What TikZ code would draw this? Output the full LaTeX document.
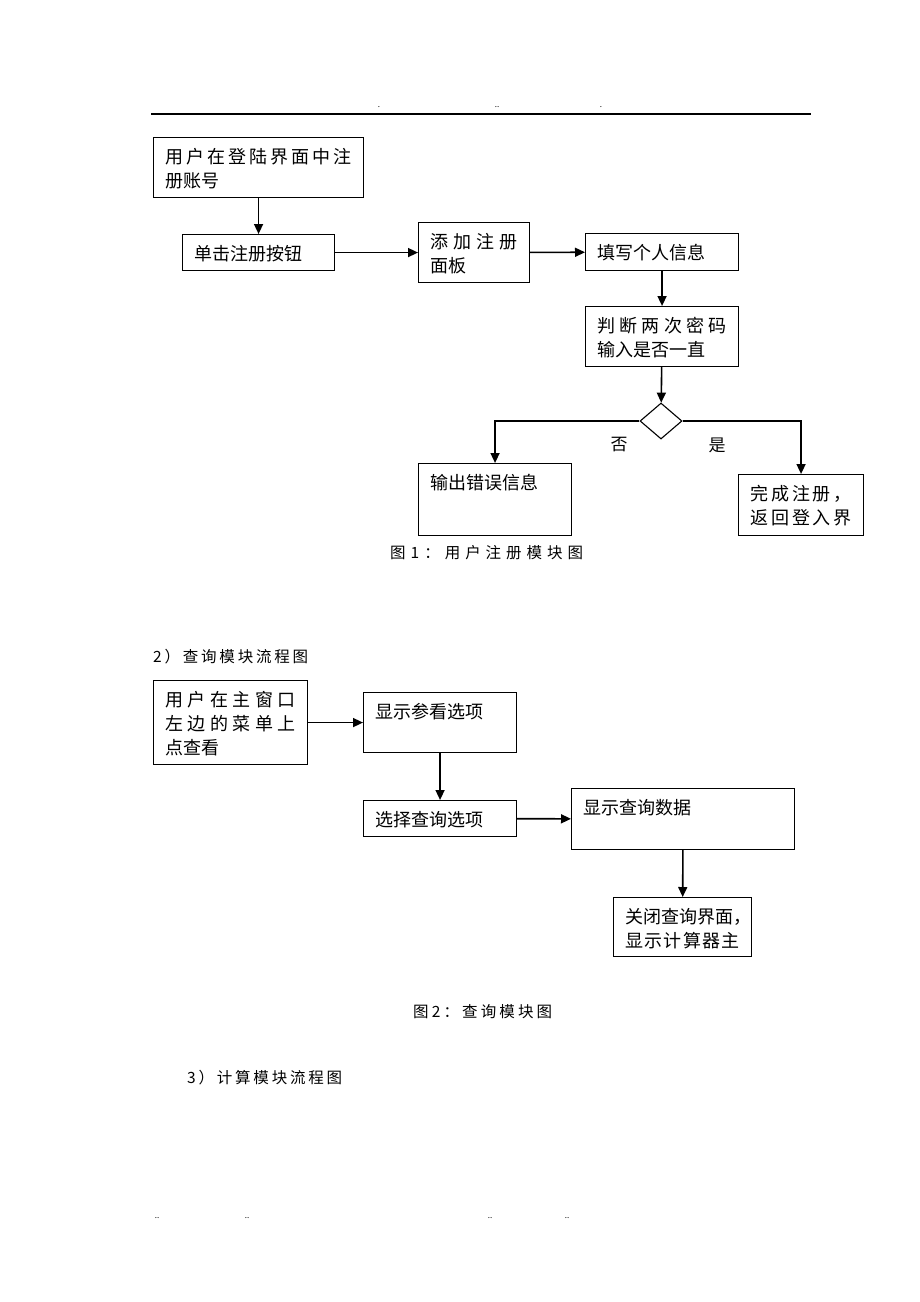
\documentclass[tikz,border=0pt]{standalone}
\usepackage{fontspec}
\newfontfamily\cjk{Noto Sans CJK SC}
\usetikzlibrary{arrows.meta}
\usetikzlibrary{positioning}
\usetikzlibrary{shapes.geometric}

% spread the characters of one line over a given width
\def\spreadloop#1{\ifx\relax#1\else#1\hfill\expandafter\spreadloop\fi}
\newcommand{\spreadto}[2]{\makebox[#1][s]{\spreadloop#2\relax\unskip}}
\newcommand{\spread}[1]{\spreadto{\linewidth}{#1}}
\newcommand{\boxtext}[3]{\parbox[c][#2][t]{#1}{\vspace*{11pt}#3}}

\begin{document}
\begin{tikzpicture}[x=1pt,y=-1pt,>={Triangle[length=10pt,width=9pt]},
  box/.style={draw,line width=1.1pt,anchor=north west,inner xsep=12pt,inner ysep=0pt,
    font=\cjk\fontsize{18pt}{24pt}\selectfont},
  test/.style={diamond,draw,line width=1.1pt,inner sep=0pt,minimum width=42pt,minimum height=36pt},
  title/.style={anchor=west,inner sep=0pt,font=\cjk\fontsize{15.5pt}{18pt}\selectfont},
  lbl/.style={inner sep=0pt,font=\cjk\fontsize{17pt}{20pt}\selectfont},
  dot/.style={inner sep=0pt,font=\cjk\fontsize{8pt}{8pt}\selectfont},
  link/.style={->,line width=1.6pt}]

  \useasboundingbox (0,0) rectangle (920,1302);

  % page header and footer
  \draw[line width=1.3pt] (151,114) -- (811,114);
  \node[dot] (h1) at (379,107) {.};
  \node[dot] (h2) at (497,107) {..};
  \node[dot] (h3) at (601,107) {.};
  \node[dot] (f1) at (157,1218) {..};
  \node[dot] (f2) at (247,1218) {..};
  \node[dot] (f3) at (490,1218) {..};
  \node[dot] (f4) at (567,1218) {..};

  % figure 1: register
  \node[box] (reg) at (153,137) {\boxtext{186pt}{60pt}{\spread{用户在登陆界面中注}\\册账号}};
  \node[box] (click) at (182,234) {\boxtext{128pt}{36pt}{单击注册按钮}};
  \node[box] (panel) at (418,222) {\boxtext{87pt}{60pt}{\spread{添加注册}\\面板}};
  \node[box] (fill) at (585,233) {\boxtext{129pt}{37pt}{填写个人信息}};
  \node[box] (check) at (585,306) {\boxtext{129pt}{60pt}{\spread{判断两次密码}\\输入是否一直}};
  \node[test] (same) at (661,421) {};
  \node[box] (err) at (418,463) {\boxtext{129pt}{72pt}{输出错误信息}};
  \node[box] (done) at (738,474) {\boxtext{101pt}{61pt}{\spread{完成注册，}\\\spread{返回登入界}}};
  \node[lbl] (no) at (619,445) {否};
  \node[lbl] (yes) at (717,445) {是};
  \node[title] (cap1) at (390,553) {\spreadto{193pt}{图1：用户注册模块图}};

  \path (reg) edge[link] (click);
  \path (click) edge[link] (panel);
  \path (panel) edge[link] (fill);
  \path (fill) edge[link] (check);
  \path (check) edge[link] (same);
  \draw[link] (same.west) -| (err.north);
  \draw[link] (same.east) -| (done.north);

  % figure 2: query
  \node[title] (sec2) at (153,657) {\spreadto{155pt}{2）查询模块流程图}};
  \node[box] (menu) at (153,680) {\boxtext{130pt}{84pt}{\spread{用户在主窗口}\\\spread{左边的菜单上}\\点查看}};
  \node[box] (show) at (363,692) {\boxtext{129pt}{60pt}{显示参看选项}};
  \node[box] (pick) at (363,800) {\boxtext{129pt}{36pt}{选择查询选项}};
  \node[box] (data) at (571,788) {\boxtext{199pt}{61pt}{显示查询数据}};
  \node[box] (close) at (613,897) {\boxtext{114pt}{59pt}{\spread{关闭查询界面，}\\\spread{显示计算器主}}};
  \node[title] (cap2) at (413,1012) {\spreadto{139pt}{图2：查询模块图}};

  \path (menu) edge[link] (show);
  \path (show) edge[link] (pick);
  \path (pick) edge[link] (data);
  \path (data) edge[link] (close);

  \node[title] (sec3) at (187,1078) {\spreadto{155pt}{3）计算模块流程图}};
\end{tikzpicture}
\end{document}
